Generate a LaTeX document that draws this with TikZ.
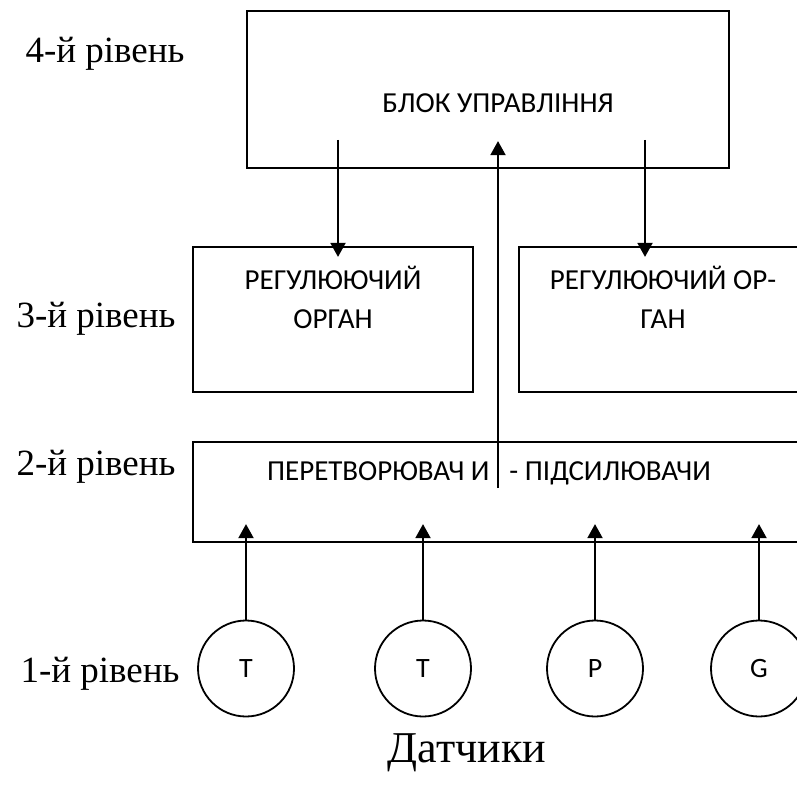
\documentclass[tikz,border=0pt]{standalone}
\usepackage{fontspec}
\setmainfont{Liberation Serif}
\setsansfont{Carlito}
\usetikzlibrary{arrows.meta,positioning}

\begin{document}
\begin{tikzpicture}[
            x=1pt, y=-1pt,
            >={Triangle[length=14pt,width=15pt]},
            box/.style={draw, line width=2.2pt, inner sep=0pt},
            sensor/.style={draw, circle, line width=1.8pt, minimum size=96pt,
                inner sep=0pt, font=\sffamily\fontsize{28}{34}\selectfont},
            level/.style={anchor=base west, font=\fontsize{37}{44}\selectfont},
            boxtext/.style={font=\sffamily\fontsize{29}{39}\selectfont, align=center},
            link/.style={->, line width=1.9pt}
        ]
        \clip (0,0) rectangle (797,791);

        \node[box, minimum width=482pt, minimum height=157pt] (blok) at (488,89.5) {};
        \node[boxtext] (bloktext) at (498,103) {БЛОК УПРАВЛІННЯ};

        \node[box, minimum width=280pt, minimum height=145pt] (reg1) at (333,319.5) {};
        \node[box, minimum width=288pt, minimum height=145pt] (reg2) at (663,319.5) {};
        \node[boxtext] (reg1text) at (333,297) {РЕГУЛЮЮЧИЙ\\ОРГАН};
        \node[boxtext] (reg2text) at (663,297) {РЕГУЛЮЮЧИЙ ОР-\\ГАН};

        \node[box, minimum width=614pt, minimum height=100pt] (pere) at (500,492) {};
        \node[boxtext] (peretext) at (489,472) {ПЕРЕТВОРЮВАЧ И \phantom{|}- ПІДСИЛЮВАЧИ};

        \node[sensor] (t1) at (246,668.5) {T};
        \node[sensor] (t2) at (423,668.5) {T};
        \node[sensor] (p) at (595,668.5) {P};
        \node[sensor] (g) at (759,668.5) {G};

        \node[level] (lev4) at (22,63) {4-й рівень};
        \node[level] (lev3) at (13,327) {3-й рівень};
        \node[level] (lev2) at (13,475) {2-й рівень};
        \node[level] (lev1) at (17,682) {1-й рівень};
        \node[level, anchor=base, font=\fontsize{44}{50}\selectfont] (sensors) at (467,762) {Датчики};

        \coordinate (out1) at (338,140);
        \coordinate (out2) at (645,140);
        \coordinate (fb) at (498,488);
        \draw[link] (out1) -- ([yshift=-11pt]out1 |- reg1.north);
        \draw[link] (out2) -- ([yshift=-11pt]out2 |- reg2.north);
        \draw[link] (fb) -- ([yshift=28pt]fb |- blok.south);

        \draw[link] (t1.north) -- ([yshift=19pt]t1.north |- pere.south);
        \draw[link] (t2.north) -- ([yshift=19pt]t2.north |- pere.south);
        \draw[link] (p.north) -- ([yshift=19pt]p.north |- pere.south);
        \draw[link] (g.north) -- ([yshift=19pt]g.north |- pere.south);
    \end{tikzpicture}
\end{document}
